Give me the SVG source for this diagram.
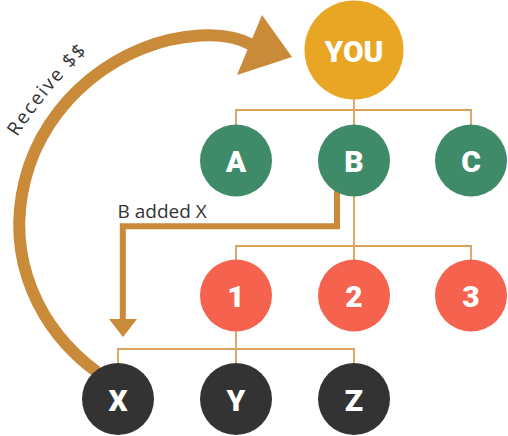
<svg xmlns="http://www.w3.org/2000/svg" width="508" height="436" viewBox="0 0 508 436">
<style>
.thin{fill:none;stroke:#D9A35E;stroke-width:1.8}
.thick{fill:none;stroke:#C98A3A}
.head{fill:#C98A3A}
.lbl{font-family:Roboto,"Liberation Sans",sans-serif;font-weight:900;font-size:30px;fill:#FFFFFF;text-anchor:middle}
.note{font-family:"Open Sans","DejaVu Sans",sans-serif;font-size:19px;fill:#333333}
.you{fill:#E8A624}
.grn{fill:#3F8B69}
.red{fill:#F5634F}
.blk{fill:#333333}
</style>
<defs>
<path id="rp" d="M 17 137 Q 46 92 84 55 L 112 28"/>
</defs>
<rect width="508" height="436" fill="#FFFFFF"/>
<g id="connectors">
<path class="thin" d="M354 99 V126 M236 126 V110 H471 V126"/>
<path class="thin" d="M354 196 V260 M236 260 V246 H471 V260"/>
<path class="thin" d="M236 331 V364 M118 364 V349 H354 V364"/>
<path class="thick" stroke-width="6" d="M337 190 V226.3 H122.8 V320"/>
<polygon class="head" points="109,319 137,319 123,337"/>
<path class="thick" stroke-width="12" d="M 97 372 C 40 330, 5 260, 25 180 C 45 100, 120 40, 200 35.5 C 225 34, 240 38, 252 45"/>
<polygon class="head" points="262,15 292,57 237,75"/>
</g>
<text class="note" font-size="19.5" letter-spacing="1.8"><textPath href="#rp">Receive $$</textPath></text>
<text class="note" x="117.5" y="218.3">B added X</text>
<g id="node-you"><circle class="you" cx="354" cy="50" r="49.5"/><text class="lbl" x="354" y="62" font-size="31">YOU</text></g>
<g id="node-a"><circle class="grn" cx="236" cy="160.5" r="36"/><text class="lbl" x="236" y="172">A</text></g>
<g id="node-b"><circle class="grn" cx="354" cy="160.5" r="36"/><text class="lbl" x="354" y="172">B</text></g>
<g id="node-c"><circle class="grn" cx="471" cy="160.5" r="36"/><text class="lbl" x="471" y="172">C</text></g>
<g id="node-1"><circle class="red" cx="236" cy="295.5" r="36"/><text class="lbl" x="236" y="307">1</text></g>
<g id="node-2"><circle class="red" cx="354" cy="295.5" r="36"/><text class="lbl" x="354" y="307">2</text></g>
<g id="node-3"><circle class="red" cx="471" cy="295.5" r="36"/><text class="lbl" x="471" y="307">3</text></g>
<g id="node-x"><circle class="blk" cx="118" cy="399" r="36"/><text class="lbl" x="118" y="410.5">X</text></g>
<g id="node-y"><circle class="blk" cx="236" cy="399" r="36"/><text class="lbl" x="236" y="410.5">Y</text></g>
<g id="node-z"><circle class="blk" cx="354" cy="399" r="36"/><text class="lbl" x="354" y="410.5">Z</text></g>
</svg>
